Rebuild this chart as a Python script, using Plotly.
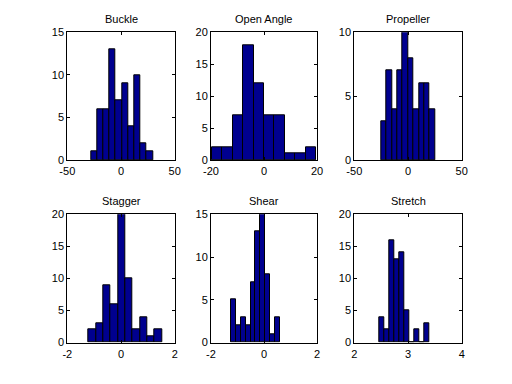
import plotly.graph_objects as go

titles = ["Buckle", "Open Angle", "Propeller", "Stagger", "Shear", "Stretch"]

# histogram bin left edge, bin width, counts (10 bins each)
bin_start = [-28.1, -19.7, -25.0, -1.2, -1.24, 2.4625]
bin_width = [5.78, 3.94, 5.03, 0.2725, 0.183, 0.0931]
counts = [
    [1, 6, 6, 13, 7, 9, 4, 10, 2, 1],
    [2, 2, 7, 18, 12, 7, 7, 1, 1, 2],
    [3, 7, 4, 7, 10, 8, 4, 6, 6, 4],
    [2, 3, 9, 6, 20, 10, 2, 4, 1, 2],
    [5, 2, 3, 2, 7, 13, 15, 8, 1, 3],
    [4, 2, 16, 13, 14, 5, 0, 2, 0, 3],
]
x_ranges = [[-50, 50], [-20, 20], [-50, 50], [-2, 2], [-2, 2], [2, 4]]
x_ticks = [[-50, 0, 50], [-20, 0, 20], [-50, 0, 50], [-2, 0, 2], [-2, 0, 2], [2, 3, 4]]
x_ticktext = [["-50", "0", "50"], ["-20", "0", "20"], ["-50", "0", "50"],
              ["-2", "0", "2"], ["-2", "0", "2"], ["2", "3", "4"]]
y_ranges = [[0, 15], [0, 20], [0, 10], [0, 20], [0, 15], [0, 20]]
y_ticks = [[0, 5, 10, 15], [0, 5, 10, 15, 20], [0, 5, 10],
           [0, 5, 10, 15, 20], [0, 5, 10, 15], [0, 5, 10, 15, 20]]

W, H = 512, 384
OFF = 8  # page body margin offset
cols_px = [(67.3 - OFF, 174.7 - OFF), (211.0 - OFF, 317.0 - OFF), (354.3 - OFF, 461.7 - OFF)]
rows_px = [(32.3 - OFF, 160.0 - OFF), (214.3 - OFF, 342.5 - OFF)]

fig = go.Figure()
layout = dict(
    template="none",
    width=W, height=H, margin=dict(l=0, r=0, t=0, b=0, pad=0),
    paper_bgcolor="white", plot_bgcolor="white", showlegend=False,
    font=dict(family="Liberation Sans, Arial, Helvetica, sans-serif", size=11, color="black"),
    bargap=0,
)
annotations = []
for i in range(6):
    r, c = divmod(i, 3)
    x0, x1 = cols_px[c]
    yt, yb = rows_px[r]
    xs = [bin_start[i] + bin_width[i] * (k + 0.5) for k in range(len(counts[i]))]
    n = i + 1
    xa = "x" if n == 1 else f"x{n}"
    ya = "y" if n == 1 else f"y{n}"
    fig.add_trace(go.Bar(
        x=xs, y=counts[i], width=[bin_width[i]] * len(xs),
        marker=dict(color="#00008F", line=dict(color="black", width=1)),
        xaxis=xa, yaxis=ya, hoverinfo="skip",
    ))
    axcommon = dict(showgrid=False, zeroline=False, showline=True, linecolor="black",
                    linewidth=1, mirror="ticks", ticks="inside", ticklen=3,
                    tickcolor="black", tickfont=dict(size=11, color="black"),
                    automargin=False)
    layout["xaxis" if n == 1 else f"xaxis{n}"] = dict(
        domain=[x0 / W, x1 / W], range=x_ranges[i], tickvals=x_ticks[i],
        ticktext=x_ticktext[i], ticklabelstandoff=1,
        anchor=ya, **axcommon)
    layout["yaxis" if n == 1 else f"yaxis{n}"] = dict(
        domain=[1 - yb / H, 1 - yt / H], range=y_ranges[i], tickvals=y_ticks[i],
        anchor=xa, **axcommon)
    annotations.append(dict(
        text=titles[i], x=(x0 + x1) / 2 / W, y=1 - (yt - 5) / H,
        xref="paper", yref="paper", xanchor="center", yanchor="bottom",
        showarrow=False, font=dict(size=11, color="black")))
layout["annotations"] = annotations
fig.update_layout(**layout)
fig.write_html("out.html")
